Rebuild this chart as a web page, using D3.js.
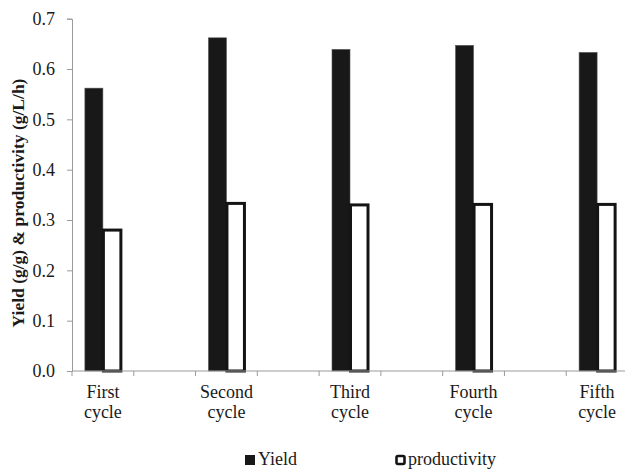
<!DOCTYPE html>
<html>
<head>
<meta charset="utf-8">
<script src="https://cdn.jsdelivr.net/npm/d3@7"></script>
</head>
<body style="margin:0">
<svg id="chart" width="625" height="469"></svg>
<script>
const categories = ["First cycle", "Second cycle", "Third cycle", "Fourth cycle", "Fifth cycle"];
const yieldValues = [0.562, 0.662, 0.639, 0.647, 0.633];
const productivityValues = [0.280, 0.333, 0.330, 0.331, 0.331];
const seriesNames = ["Yield", "productivity"];
const yTicks = [0, 0.1, 0.2, 0.3, 0.4, 0.5, 0.6, 0.7];

const font = "Liberation Serif";

// empty slot between every two cycles, like the original sheet
const slots = [];
categories.forEach((c, i) => {
    slots.push(c);
    if (i < categories.length - 1) slots.push("gap" + i);
});

const svg = d3.select("#chart");
const plotLeft = 72, plotRight = 628, plotTop = 18.7, plotBottom = 371;

const x = d3.scaleBand().domain(slots).range([plotLeft, plotRight]).padding(0);
const inner = d3.scaleBand().domain(seriesNames).range([0, 36]);
const y = d3.scaleLinear().domain([0, 0.7]).range([plotBottom, plotTop]);

const axisColor = "#9a9a9a";
const ink = "#1a1a1a";

// y axis
const yAxis = svg.append("g")
    .attr("transform", `translate(${plotLeft},0)`)
    .call(d3.axisLeft(y).tickValues(yTicks).tickFormat(d3.format(".1f")).tickSize(5).tickPadding(12));
yAxis.attr("font-family", font).attr("font-size", 18);
yAxis.select(".domain").attr("stroke", axisColor);
yAxis.selectAll(".tick line").attr("stroke", axisColor);
yAxis.selectAll(".tick text").attr("fill", ink);

// bars
const rows = categories.map((c, i) => ({cat: c, vals: [yieldValues[i], productivityValues[i]]}));
const groups = svg.append("g").selectAll("g")
    .data(rows)
    .join("g")
    .attr("transform", d => `translate(${x(d.cat) + x.bandwidth() / 2 - 18},0)`);

groups.append("rect")
    .attr("x", inner("Yield"))
    .attr("width", inner.bandwidth())
    .attr("y", d => y(d.vals[0]))
    .attr("height", d => plotBottom - y(d.vals[0]))
    .attr("fill", "#181818")
    .attr("stroke", "#555")
    .attr("stroke-width", 0.6);

groups.append("rect")
    .attr("x", inner("productivity") + 0.5)
    .attr("width", inner.bandwidth() - 0.5)
    .attr("y", d => y(d.vals[1]))
    .attr("height", d => plotBottom - y(d.vals[1]))
    .attr("fill", "#fff")
    .attr("stroke", "#141414")
    .attr("stroke-width", 3);

// x axis
const xAxis = svg.append("g");
xAxis.append("line")
    .attr("x1", plotLeft).attr("x2", plotRight)
    .attr("y1", plotBottom).attr("y2", plotBottom)
    .attr("stroke", axisColor);
xAxis.selectAll(".xt")
    .data(slots.map(s => x(s)).concat([plotRight]))
    .join("line")
    .attr("x1", d => d).attr("x2", d => d)
    .attr("y1", plotBottom).attr("y2", plotBottom + 5)
    .attr("stroke", axisColor);

categories.forEach(c => {
    c.split(" ").forEach((w, k) => {
        xAxis.append("text")
            .attr("x", x(c) + x.bandwidth() / 2)
            .attr("y", 398 + k * 20)
            .attr("text-anchor", "middle")
            .attr("fill", ink)
            .attr("font-family", font)
            .attr("font-size", 18)
            .text(w);
    });
});

// y title
svg.append("text")
    .attr("transform", "translate(24,203) rotate(-90)")
    .attr("text-anchor", "middle")
    .attr("fill", ink)
    .attr("font-family", font)
    .attr("font-size", 17.5)
    .attr("font-weight", "bold")
    .text("Yield (g/g) & productivity (g/L/h)");

// legend
svg.append("rect")
    .attr("x", 245).attr("y", 455).attr("width", 10).attr("height", 10)
    .attr("fill", "#181818");
svg.append("text")
    .attr("x", 258).attr("y", 465)
    .attr("fill", ink)
    .attr("font-family", font)
    .attr("font-size", 18)
    .text(seriesNames[0]);
svg.append("rect")
    .attr("x", 396.5).attr("y", 456).attr("width", 8).attr("height", 8)
    .attr("rx", 1.5)
    .attr("fill", "#fff")
    .attr("stroke", "#141414")
    .attr("stroke-width", 2.6);
svg.append("text")
    .attr("x", 408).attr("y", 465)
    .attr("fill", ink)
    .attr("font-family", font)
    .attr("font-size", 18)
    .text(seriesNames[1]);
</script>
</body>
</html>
